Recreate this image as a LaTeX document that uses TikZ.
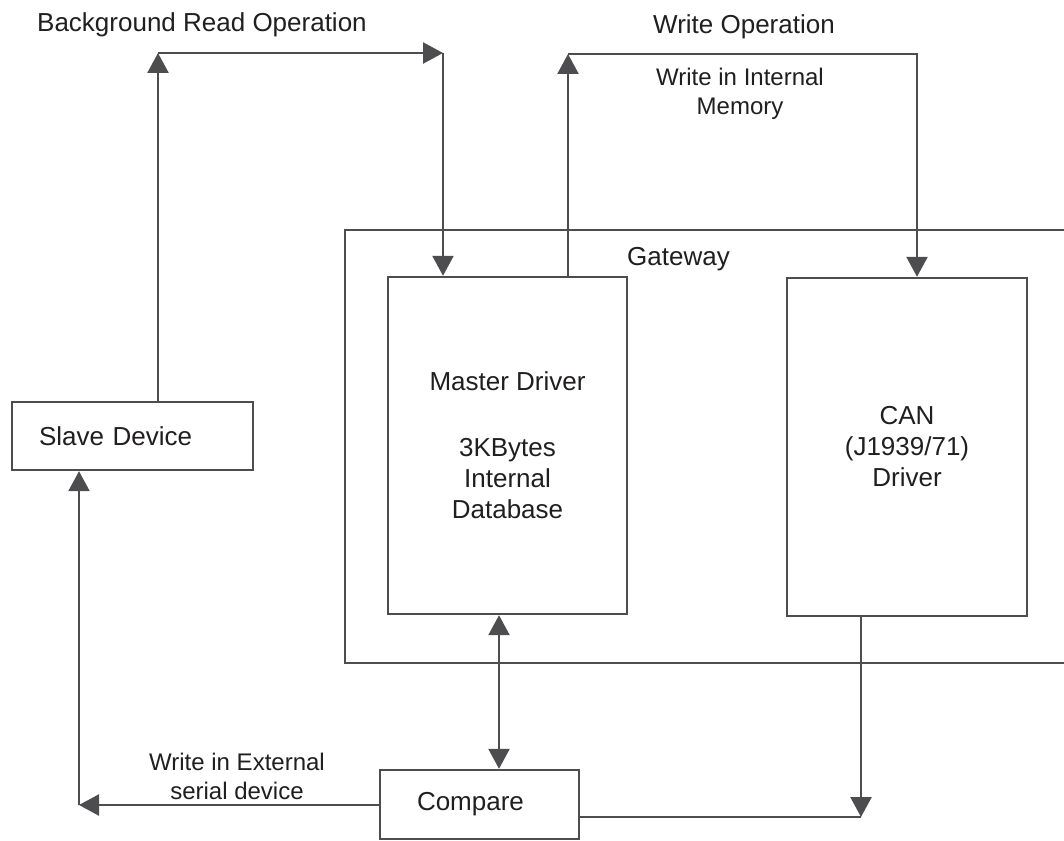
\documentclass[tikz,border=0pt]{standalone}
\usepackage{fontspec}
\setmainfont{Liberation Sans}
\usetikzlibrary{arrows.meta,calc,positioning}
\definecolor{linegray}{RGB}{77,77,80}
\definecolor{textgray}{RGB}{32,30,31}
\tikzset{>={Triangle[length=20pt,width=21pt]}}

\begin{document}
\begin{tikzpicture}[x=1pt,y=-1pt,line width=2.4pt,color=linegray]
  \tikzstyle{block}=[draw, rectangle, inner sep=0pt, align=center, text=textgray, font=\fontsize{26}{31}\selectfont]
  \tikzstyle{caption}=[inner sep=0pt, text=textgray, font=\fontsize{26}{31}\selectfont]
  \tikzstyle{small_caption}=[inner sep=0pt, align=center, text=textgray, font=\fontsize{24}{29}\selectfont]
  \useasboundingbox (0,0) rectangle (1064,840);
  \clip (0,0) rectangle (1064,840);
  \node[block, minimum width=730pt, minimum height=433pt] (gateway) at (710,446.5) {};
  \node[caption, anchor=base west] (gatewaylabel) at (626,265) {Gateway};
  \node[block, minimum width=239pt, minimum height=337pt] (master) at (507.5,445.5)
    {Master Driver\\[35pt]3KBytes\\Internal\\Database};
  \node[block, minimum width=240pt, minimum height=338pt] (can) at (907,447)
    {CAN\\(J1939/71)\\Driver};
  \node[block, align=left, text width=187pt, inner xsep=27pt, minimum height=68pt] (slave) at (132.5,436) {Slave Device};
  \node[block, align=left, text width=125pt, inner xsep=37pt, minimum height=69pt] (compare) at (479.5,804.5) {Compare};
  \node[caption, anchor=base west] (readlabel) at (36,32) {Background Read Operation};
  \node[caption, anchor=base west] (writelabel) at (652,34) {Write Operation};
  \node[small_caption] (internal) at (740,94) {Write in Internal\\Memory};
  \node[small_caption] (external) at (237,776.5) {Write in External\\serial device};
  \coordinate (readL) at (158,53);
  \coordinate (readR) at (443,53);
  \coordinate (writeL) at (568,54);
  \coordinate (writeR) at (917,54);
  \coordinate (dbLink) at (499,700);
  \coordinate (canOut) at (861,817);
  \coordinate (extL) at (79,805);
  \draw[->] (slave.north -| readL) -- (readL);
  \draw[->] (readL) -- (readR);
  \draw[->] (readR) -- (readR |- master.north);
  \draw[->] (master.north -| writeL) -- (writeL);
  \draw[->] (writeL) -- (writeR) -- (writeR |- can.north);
  \draw[<->] (master.south -| dbLink) -- (compare.north -| dbLink);
  \draw[->] (can.south -| canOut) -- (canOut);
  \draw (compare.east |- canOut) -- (canOut);
  \draw[->] (compare.west |- extL) -- (extL);
  \draw[->] (extL) -- (extL |- slave.south);
\end{tikzpicture}
\end{document}
